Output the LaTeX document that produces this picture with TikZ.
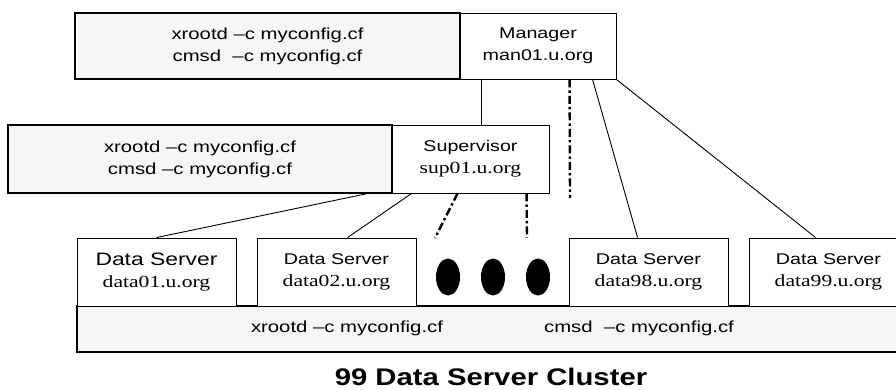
\documentclass[tikz,border=0pt]{standalone}
\usepackage{fontspec}
\setmainfont{Liberation Sans}[FakeStretch=1.27]
\newfontfamily\serifx{Liberation Serif}[FakeStretch=1.27]
\newfontfamily\titlefont{Liberation Sans}[FakeStretch=1.22]
\usetikzlibrary{calc,shapes.geometric}
\definecolor{cfggray}{HTML}{F6F6F6}
\begin{document}
\begin{tikzpicture}[x=1pt,y=-1pt,
  cfgbox/.style={draw, line width=1.8pt, fill=cfggray, inner sep=0pt, align=center,
                 font=\fontsize{16}{22}\selectfont},
  cfgtext/.style={inner sep=0pt, font=\fontsize{16}{22}\selectfont},
  hostbox/.style={draw, line width=0.9pt, fill=white, inner sep=0pt, align=center,
                 font=\fontsize{15.5}{22}\selectfont},
  conn/.style={line width=0.9pt},
  ddline/.style={line width=2.4pt, dash pattern=on 8pt off 3pt on 2.5pt off 3pt},
  blob/.style={ellipse, fill=black, minimum width=24pt, minimum height=37pt, inner sep=0pt}
]
\clip (0,0) rectangle (896,390);
\fill[white] (0,0) rectangle (896,390);

% top row
\node[cfgbox, minimum width=385pt, minimum height=66pt] (topcfg) at (267.5,46)
  {xrootd –c myconfig.cf\\cmsd\ \ –c myconfig.cf};
\node[hostbox, minimum width=156pt, minimum height=66pt] (man) at (538,46)
  {Manager\\man01.u.org};

% supervisor row
\node[cfgbox, minimum width=384pt, minimum height=68pt] (supcfg) at (200,159)
  {xrootd –c myconfig.cf\\cmsd –c myconfig.cf};
\node[hostbox, minimum width=157pt, minimum height=68pt] (sup) at (470.5,159)
  {Supervisor\\{\serifx\fontsize{17}{22}\selectfont sup01.u.org}};

% bottom config bar
\node[cfgbox, minimum width=833pt, minimum height=46pt] (botcfg) at (493.5,329) {};
\node[cfgtext] (bx) at (347,328) {xrootd –c myconfig.cf};
\node[cfgtext] (bc) at (639,328) {cmsd\ \ –c myconfig.cf};

% data servers
\node[hostbox, minimum width=159pt, minimum height=68pt] (d01) at (156.5,272)
  {{\fontsize{18}{22}\selectfont Data Server}\\{\serifx\fontsize{17}{22}\selectfont data01.u.org}};
\node[hostbox, minimum width=159pt, minimum height=68pt] (d02) at (336.5,272)
  {Data Server\\{\serifx\fontsize{17}{22}\selectfont data02.u.org}};
\node[hostbox, minimum width=159pt, minimum height=68pt] (d98) at (648.5,272)
  {Data Server\\{\serifx\fontsize{17}{22}\selectfont data98.u.org}};
\node[hostbox, minimum width=159pt, minimum height=68pt] (d99) at (828.5,272)
  {Data Server\\{\serifx\fontsize{17}{22}\selectfont data99.u.org}};

% ellipsis blobs
\node[blob] (e1) at (448,277) {};
\node[blob] (e2) at (493,277) {};
\node[blob] (e3) at (538,277) {};

% free ends of dash-dot lines
\coordinate (mdd) at (570,198);
\coordinate (sdd1) at (435,238);
\coordinate (sdd2) at (527,238);

% connectors from manager
\draw[conn] ($(man.south west)+(22,0)$) -- ($(sup.north west)+(90,0)$);
\draw[ddline] ($(man.south west)+(110,0)$) -- (mdd);
\draw[conn] ($(man.south west)+(133,0)$) -- ($(d98.north west)+(69,0)$);
\draw[conn] (man.south east) -- ($(d99.north west)+(67,0)$);

% connectors from supervisor
\draw[conn] ($(supcfg.south east)+(-27,0)$) -- (d01.north);
\draw[conn] ($(sup.south west)+(20,0)$) -- ($(d02.north west)+(91,0)$);
\draw[ddline] ($(sup.south west)+(66,0)$) -- (sdd1);
\draw[ddline] ($(sup.south west)+(135,0)$) -- (sdd2);

% title
\node[font=\titlefont\bfseries\fontsize{24}{28}\selectfont, inner sep=0pt] (title) at (491,377)
  {99 Data Server Cluster};
\end{tikzpicture}
\end{document}
